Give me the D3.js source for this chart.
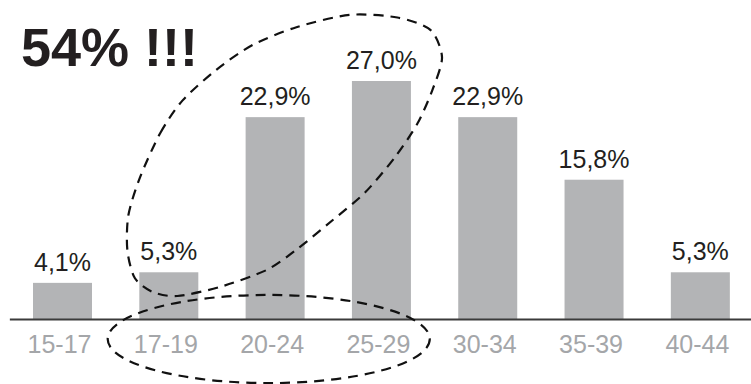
<!DOCTYPE html>
<html>
<head>
<meta charset="utf-8">
<script src="https://cdn.jsdelivr.net/npm/d3@7"></script>
<style>
  html, body { margin: 0; padding: 0; background: #fff; }
  svg { display: block; font-family: "Liberation Sans", Arial, Helvetica, sans-serif; }
</style>
</head>
<body>
<div id="chart"></div>
<script>
var ageGroups = ["15-17", "17-19", "20-24", "25-29", "30-34", "35-39", "40-44"];
var shares = [4.1, 5.3, 22.9, 27.0, 22.9, 15.8, 5.3];
var valueLabels = ["4,1%", "5,3%", "22,9%", "27,0%", "22,9%", "15,8%", "5,3%"];
var headline = "54% !!!";

// hand drawn ring round the 20-29 peak, in [band index, value] units
var ringPoints = [
  [0.73, 16.1], [0.92, 21.1], [1.13, 24.8], [1.45, 28.3], [1.79, 31.1], [2.2, 33.1],
  [2.7, 34.5], [3.15, 34.2], [3.46, 32.8], [3.57, 29.7], [3.48, 26.0], [3.34, 22.2],
  [3.13, 18.4], [2.85, 14.4], [2.54, 11.2], [2.22, 8.05], [1.92, 5.56], [1.48, 3.63],
  [1.08, 2.61], [0.85, 3.06], [0.68, 4.65], [0.61, 7.83], [0.62, 11.8]
];
// flat ring round the 17-29 tick labels: centre index, centre value, half width (bands), half height (value)
var tickRing = {i: 1.94, v: -2.27, rx: 1.515, ry: 5.0};

var width = 751, height = 384;
var baseY = 319;

var svg = d3.select("#chart").append("svg")
    .attr("width", width)
    .attr("height", height);

var x = d3.scaleBand()
    .domain(ageGroups)
    .range([9.35, 753.5])
    .paddingInner(0.445)
    .paddingOuter(0.2225);

var y = d3.scaleLinear()
    .domain([0, 27])
    .range([baseY, 81]);

// band index -> pixel centre
function bx(i) { return x(ageGroups[0]) + x.bandwidth() / 2 + i * x.step(); }

svg.selectAll("rect.bar")
  .data(shares)
  .enter().append("rect")
    .attr("class", "bar")
    .attr("x", function(d, i) { return x(ageGroups[i]); })
    .attr("y", function(d) { return y(d); })
    .attr("width", x.bandwidth())
    .attr("height", function(d) { return y(0) - y(d); })
    .attr("fill", "#b3b4b6");

svg.selectAll("text.val")
  .data(shares)
  .enter().append("text")
    .attr("class", "val")
    .attr("x", function(d, i) { return x(ageGroups[i]) + x.bandwidth() / 2; })
    .attr("y", function(d) { return y(d) - 12; })
    .attr("text-anchor", "middle")
    .attr("font-size", "25px")
    .attr("fill", "#231f20")
    .text(function(d, i) { return valueLabels[i]; });

var xAxis = svg.append("g")
    .attr("transform", "translate(0," + baseY + ")")
    .call(d3.axisBottom(x).tickSize(0).tickSizeOuter(0));

xAxis.select(".domain")
    .attr("stroke", "#3b3b3b")
    .attr("stroke-width", 2);

xAxis.selectAll(".tick text")
    .attr("y", 34)
    .attr("dy", 0)
    .attr("dx", -3)
    .attr("font-size", "25px")
    .attr("font-family", "'Liberation Sans', Arial, sans-serif")
    .attr("fill", "#a4a6a9");

svg.append("text")
    .attr("x", 21)
    .attr("y", 66)
    .attr("font-size", "54px")
    .attr("font-weight", "bold")
    .attr("fill", "#231f20")
    .text(headline);

// dashed annotations
var ring = d3.line()
    .x(function(p) { return bx(p[0]); })
    .y(function(p) { return y(p[1]); })
    .curve(d3.curveCardinalClosed.tension(0.2));

svg.append("path")
    .attr("d", ring(ringPoints))
    .attr("fill", "none")
    .attr("stroke", "#111")
    .attr("stroke-width", 2.2)
    .attr("stroke-dasharray", "10,7");

svg.append("ellipse")
    .attr("cx", bx(tickRing.i))
    .attr("cy", y(tickRing.v))
    .attr("rx", tickRing.rx * x.step())
    .attr("ry", y(0) - y(tickRing.ry))
    .attr("fill", "none")
    .attr("stroke", "#111")
    .attr("stroke-width", 2.2)
    .attr("stroke-dasharray", "10,7");
</script>
</body>
</html>
